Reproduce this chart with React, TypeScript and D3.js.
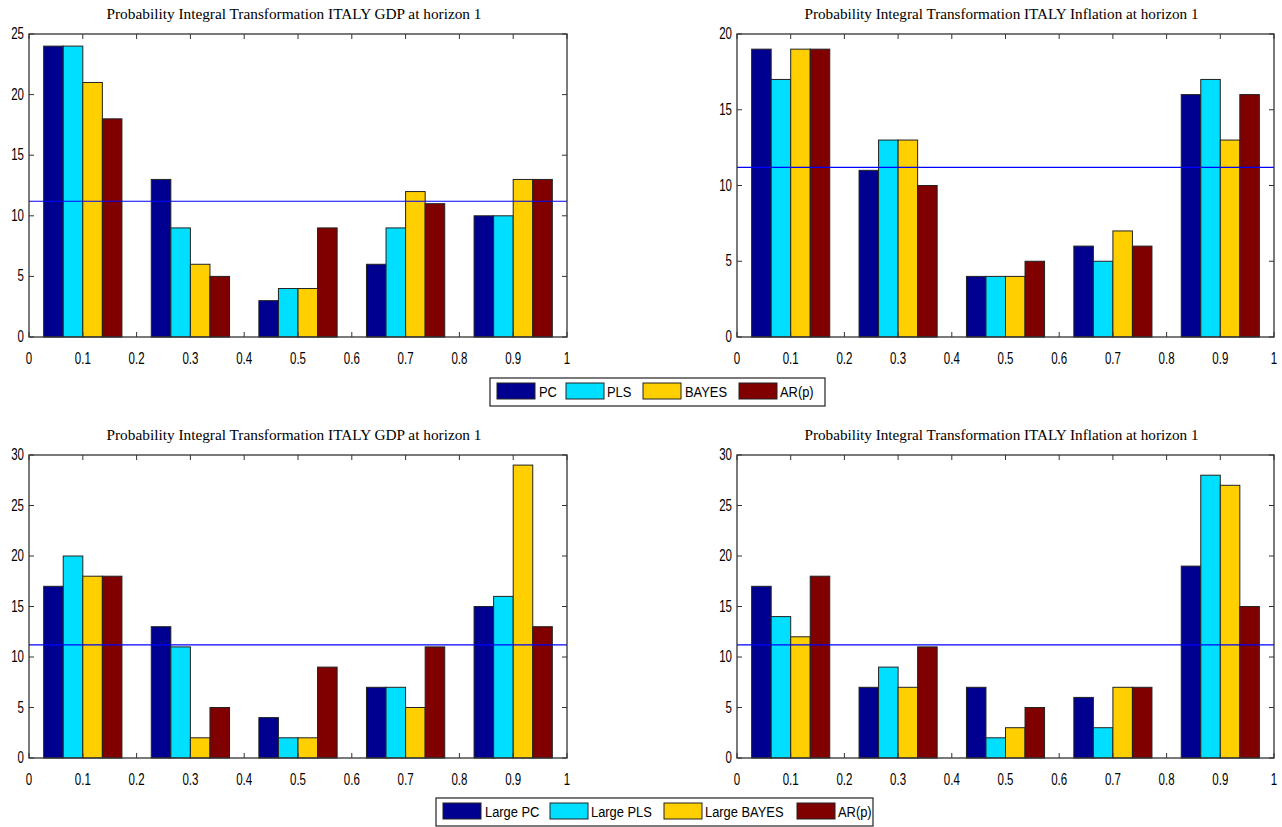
import React from "react";
import * as d3 from "d3";

const bins = [0.1, 0.3, 0.5, 0.7, 0.9];
const xTicks = [0, 0.1, 0.2, 0.3, 0.4, 0.5, 0.6, 0.7, 0.8, 0.9, 1];

const seriesTop = ["PC", "PLS", "BAYES", "AR(p)"];
const seriesBottom = ["Large PC", "Large PLS", "Large BAYES", "AR(p)"];
const colors = ["#000090", "#00DFFF", "#FFCF00", "#800000"];

const gdpTop = [
  [24, 13, 3, 6, 10],
  [24, 9, 4, 9, 10],
  [21, 6, 4, 12, 13],
  [18, 5, 9, 11, 13],
];
const inflTop = [
  [19, 11, 4, 6, 16],
  [17, 13, 4, 5, 17],
  [19, 13, 4, 7, 13],
  [19, 10, 5, 6, 16],
];
const gdpBottom = [
  [17, 13, 4, 7, 15],
  [20, 11, 2, 7, 16],
  [18, 2, 2, 5, 29],
  [18, 5, 9, 11, 13],
];
const inflBottom = [
  [17, 7, 7, 6, 19],
  [14, 9, 2, 3, 28],
  [12, 7, 3, 7, 27],
  [18, 11, 5, 7, 15],
];

const uniformLevel = 11.2;
const titleGDP = "Probability Integral Transformation ITALY GDP at horizon 1";
const titleInfl = "Probability Integral Transformation ITALY Inflation at horizon 1";

const tickFont = "'Liberation Sans', Arial, sans-serif";
const titleFont = "'Liberation Serif', 'DejaVu Serif', serif";

function NarrowText({
  x,
  y,
  anchor,
  children,
  size = 16,
  sx = 0.72,
}: {
  x: number;
  y: number;
  anchor: "start" | "middle" | "end";
  children: string;
  size?: number;
  sx?: number;
}) {
  return (
    <text
      transform={`translate(${x},${y}) scale(${sx},1)`}
      x={0}
      y={0}
      textAnchor={anchor}
      fontFamily={tickFont}
      fontSize={size}
      fill="#000"
    >
      {children}
    </text>
  );
}

type PanelProps = {
  x0: number;
  x1: number;
  y0: number;
  y1: number;
  yMax: number;
  data: number[][];
  title: string;
  titleLen: number;
};

function Panel({ x0, x1, y0, y1, yMax, data, title, titleLen }: PanelProps) {
  const x = d3.scaleLinear().domain([0, 1]).range([x0, x1]);
  const y = d3.scaleLinear().domain([0, yMax]).range([y1, y0]);
  const yTicks = d3.range(0, yMax + 0.001, 5);
  const groupW = 0.2 * (4 / 5.5);
  const tl = 5;
  return (
    <g>
      <text
        x={(x0 + x1) / 2 - 4}
        y={y0 - 15}
        textAnchor="middle"
        fontFamily={titleFont}
        fontSize={14}
        textLength={titleLen}
        lengthAdjust="spacingAndGlyphs"
        fill="#000"
      >
        {title}
      </text>
      <rect x={x0} y={y0} width={x1 - x0} height={y1 - y0} fill="#fff" />
      {bins.map((c, bi) => {
        const band = d3
          .scaleBand<number>()
          .domain([0, 1, 2, 3])
          .range([c - groupW / 2, c + groupW / 2]);
        return data.map((s, si) => {
          const bx = x(band(si) as number);
          const bw = x(band.bandwidth()) - x(0);
          return (
            <rect
              key={`${bi}-${si}`}
              x={bx}
              y={y(s[bi])}
              width={bw}
              height={y(0) - y(s[bi])}
              fill={colors[si]}
              stroke="#222"
              strokeWidth={1}
            />
          );
        });
      })}
      <line
        x1={x0}
        x2={x1}
        y1={y(uniformLevel)}
        y2={y(uniformLevel)}
        stroke="#0000FF"
        strokeWidth={1.2}
      />
      <rect
        x={x0}
        y={y0}
        width={x1 - x0}
        height={y1 - y0}
        fill="none"
        stroke="#333"
        strokeWidth={1.3}
      />
      {xTicks.map((t) => (
        <g key={`xt${t}`}>
          <line x1={x(t)} x2={x(t)} y1={y1} y2={y1 - tl} stroke="#333" />
          <line x1={x(t)} x2={x(t)} y1={y0} y2={y0 + tl} stroke="#333" />
          <NarrowText x={x(t)} y={y1 + 27} anchor="middle">
            {String(t)}
          </NarrowText>
        </g>
      ))}
      {yTicks.map((t) => (
        <g key={`yt${t}`}>
          <line x1={x0} x2={x0 + tl} y1={y(t)} y2={y(t)} stroke="#333" />
          <line x1={x1} x2={x1 - tl} y1={y(t)} y2={y(t)} stroke="#333" />
          <NarrowText x={x0 - 5} y={y(t) + 5} anchor="end">
            {String(t)}
          </NarrowText>
        </g>
      ))}
    </g>
  );
}

type LegendProps = {
  bx: number;
  by: number;
  bw: number;
  bh: number;
  labels: string[];
  swatchX: number[];
  textX: number[];
};

function Legend({ bx, by, bw, bh, labels, swatchX, textX }: LegendProps) {
  return (
    <g>
      <rect x={bx} y={by} width={bw} height={bh} fill="#fff" stroke="#222" strokeWidth={1.2} />
      {labels.map((l, i) => (
        <g key={l + i}>
          <rect
            x={swatchX[i]}
            y={by + 5}
            width={38}
            height={16}
            fill={colors[i]}
            stroke="#222"
            strokeWidth={1}
          />
          <NarrowText x={textX[i]} y={by + 19} anchor="start" size={15} sx={0.86}>
            {l}
          </NarrowText>
        </g>
      ))}
    </g>
  );
}

export default function App() {
  return (
    <svg
      width={1282}
      height={827}
      style={{ position: "absolute", left: 0, top: 0, background: "#fff" }}
    >
      <rect x={0} y={0} width={1282} height={827} fill="#fff" />
      <Panel x0={29} x1={567} y0={34} y1={337} yMax={25} data={gdpTop} title={titleGDP} titleLen={375} />
      <Panel x0={737} x1={1274} y0={34} y1={337} yMax={20} data={inflTop} title={titleInfl} titleLen={394} />
      <Panel x0={29} x1={567} y0={455} y1={758} yMax={30} data={gdpBottom} title={titleGDP} titleLen={375} />
      <Panel x0={737} x1={1274} y0={455} y1={758} yMax={30} data={inflBottom} title={titleInfl} titleLen={394} />
      <Legend
        bx={490}
        by={378}
        bw={335}
        bh={28}
        labels={seriesTop}
        swatchX={[497, 566, 643, 739]}
        textX={[539, 607, 685, 780]}
      />
      <Legend
        bx={436}
        by={798}
        bw={437}
        bh={28}
        labels={seriesBottom}
        swatchX={[443, 550, 664, 797]}
        textX={[485, 591, 705, 838]}
      />
    </svg>
  );
}
